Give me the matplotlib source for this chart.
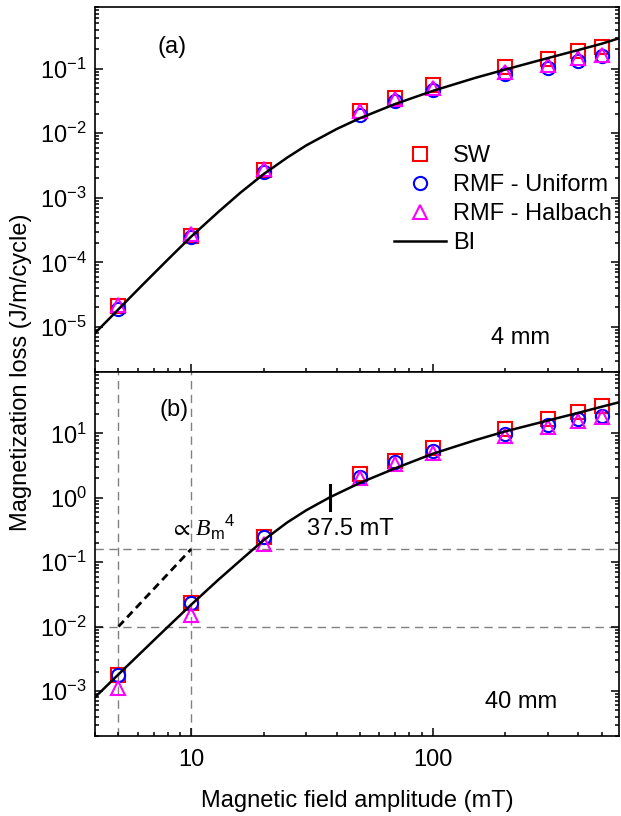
import matplotlib
matplotlib.use("Agg")
import matplotlib.pyplot as plt
from matplotlib.lines import Line2D

plt.rcParams['font.family'] = ['Liberation Sans', 'DejaVu Sans']
plt.rcParams['mathtext.fontset'] = 'custom'
plt.rcParams['mathtext.rm'] = 'Liberation Sans'
plt.rcParams['mathtext.it'] = 'Liberation Serif:italic'
plt.rcParams['mathtext.default'] = 'regular'

# field amplitudes (mT)
B = [5, 10, 20, 50, 70, 100, 200, 300, 400, 500]

# (a) 4 mm
sw_a = [2.1e-5, 2.6e-4, 2.7e-3, 0.022, 0.035, 0.055, 0.105, 0.14, 0.185, 0.22]
uni_a = [1.9e-5, 2.5e-4, 2.55e-3, 0.019, 0.031, 0.046, 0.082, 0.103, 0.132, 0.155]
hal_a = [2.2e-5, 2.75e-4, 2.8e-3, 0.022, 0.034, 0.05, 0.09, 0.113, 0.145, 0.165]
bi_a_B = [4, 5, 6.3, 8, 10, 13, 16, 20, 25, 30, 40, 50, 70, 100, 150, 200, 300, 400, 500, 590]
bi_a = [8.0e-6, 1.87e-5, 4.5e-5, 1.1e-4, 2.5e-4, 6.1e-4, 1.2e-3, 2.34e-3, 4.2e-3, 6.5e-3,
        0.0116, 0.0171, 0.0284, 0.0452, 0.072, 0.097, 0.146, 0.194, 0.243, 0.295]

# (b) 40 mm
sw_b = [1.8e-3, 0.023, 0.25, 2.35, 3.8, 5.9, 11.9, 17, 21.5, 26.5]
uni_b = [1.75e-3, 0.0235, 0.244, 2.1, 3.6, 5.3, 9.8, 13.4, 16.6, 18.8]
hal_b = [1.1e-3, 0.0153, 0.19, 2.0, 3.4, 5.0, 9.2, 12.4, 15.6, 18.3]
bi_b_B = [4, 5, 6.3, 8, 10, 13, 16, 20, 25, 30, 37.5, 50, 70, 100, 150, 200, 300, 400, 500, 590]
bi_b = [8.0e-4, 1.81e-3, 4.18e-3, 9.9e-3, 0.0219, 0.054, 0.107, 0.222, 0.416, 0.644,
        1.02, 1.71, 2.88, 4.84, 7.87, 10.8, 15.9, 20.9, 26.0, 30.5]

# B^4 guide and reference levels
guide_B = [5, 10]
guide_y = [0.01, 0.16]
ref_levels = [0.01, 0.16]
ref_fields = [5, 10]
knee_B = 37.5
knee_span = [0.65, 1.6]

fig = plt.figure(figsize=(6.21, 8.16), dpi=100)
ax1 = fig.add_axes([0.153, 0.5441, 0.8438, 0.4473])
ax2 = fig.add_axes([0.153, 0.098, 0.8438, 0.4461])

mk = dict(linestyle='none', markersize=9.5, markeredgewidth=1.5, markerfacecolor='none')
tri = dict(linestyle='none', markersize=10.5, markeredgewidth=1.5, markerfacecolor='none')

for ax, sw, uni, hal, bx, by in [(ax1, sw_a, uni_a, hal_a, bi_a_B, bi_a),
                                 (ax2, sw_b, uni_b, hal_b, bi_b_B, bi_b)]:
    ax.plot(B, sw, marker='s', markeredgecolor='#ff0000', **mk)
    ax.plot(B, uni, marker='o', markeredgecolor='#0000ff', **mk)
    ax.plot(B, hal, marker='^', markeredgecolor='#ff00ff', **tri)
    ax.plot(bx, by, color='black', lw=1.8)
    ax.set_xscale('log')
    ax.set_yscale('log')
    ax.set_xlim(4, 590)
    ax.set_xticks([10, 100])
    ax.set_xticklabels(['10', '100'])
    ax.tick_params(which='both', direction='in', top=False, right=True, labelsize=17, width=1.1)
    ax.tick_params(which='major', length=5.5)
    ax.tick_params(which='minor', length=3)
    ax.tick_params(axis='y', pad=6)
    ax.tick_params(axis='x', pad=9)
    for s in ax.spines.values():
        s.set_linewidth(1.2)

ax1.set_ylim(2e-6, 0.9)
ax2.set_ylim(2e-4, 90)
ax1.tick_params(labelbottom=False)

# dashed guides in (b)
for f in ref_fields:
    ax2.axvline(f, color='#808080', lw=1.0, dashes=(6, 4), zorder=0)
for lv in ref_levels:
    ax2.axhline(lv, color='#808080', lw=1.0, dashes=(6, 4), zorder=0)
ax2.plot(guide_B, guide_y, color='black', lw=2.0, dashes=(2.8, 1.8))
ax2.plot([knee_B, knee_B], knee_span, color='black', lw=2.2)

ax2.text(0.143, 0.574, r'$\propto\,\mathit{B}_{\mathrm{m}}{}^{4}$', transform=ax2.transAxes,
         fontsize=17, va='center', ha='left')
ax2.text(0.405, 0.568, '37.5 mT', transform=ax2.transAxes, fontsize=17, va='center', ha='left')

ax1.text(0.120, 0.890, '(a)', transform=ax1.transAxes, fontsize=17, va='center', ha='left')
ax2.text(0.124, 0.896, '(b)', transform=ax2.transAxes, fontsize=17, va='center', ha='left')
ax1.text(0.868, 0.093, '4 mm', transform=ax1.transAxes, fontsize=17, va='center', ha='right')
ax2.text(0.882, 0.093, '40 mm', transform=ax2.transAxes, fontsize=17, va='center', ha='right')

handles = [
    Line2D([], [], marker='s', markeredgecolor='#ff0000', **mk),
    Line2D([], [], marker='o', markeredgecolor='#0000ff', **mk),
    Line2D([], [], marker='^', markeredgecolor='#ff00ff', **tri),
    Line2D([], [], color='black', lw=1.8),
]
ax1.legend(handles, ['SW', 'RMF - Uniform', 'RMF - Halbach', 'BI'], loc='center left',
           bbox_to_anchor=(0.552, 0.472), frameon=False, fontsize=17, handlelength=2.2,
           handletextpad=0.3, labelspacing=0.3, borderaxespad=0)

fig.text(21 / 621, 1 - 372 / 816, 'Magnetization loss (J/m/cycle)', rotation=90,
         fontsize=17, ha='center', va='center')
ax2.set_xlabel('Magnetic field amplitude (mT)', fontsize=17, labelpad=14)

fig.savefig('out.png', dpi=100)
